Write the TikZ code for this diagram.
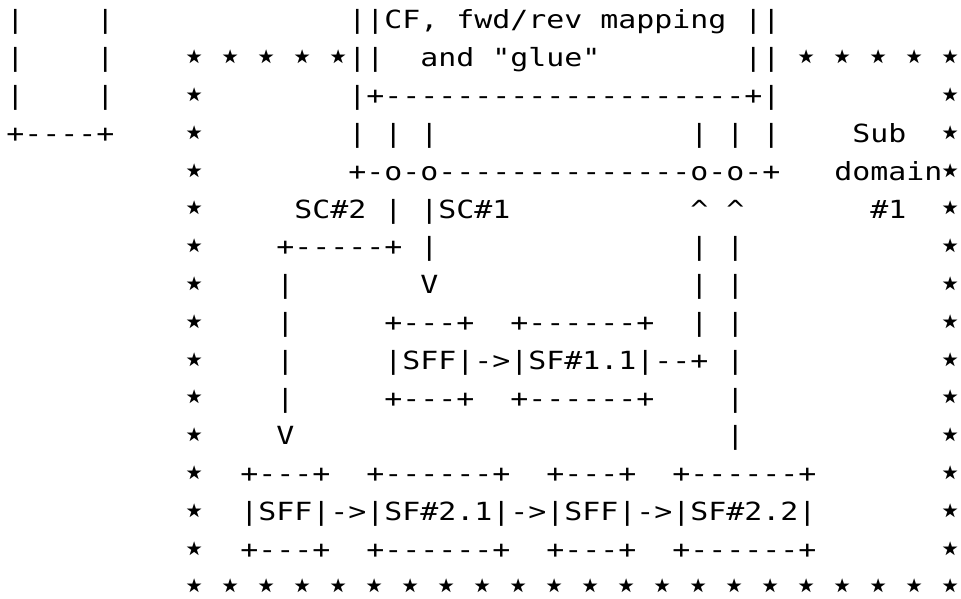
\documentclass[tikz,border=0pt]{standalone}
\usepackage{fontspec}
\setmonofont{DejaVu Sans Mono}[FakeStretch=1.196]
\newfontfamily\starfont{DejaVu Sans}

\begin{document}
\begin{tikzpicture}[x=13.5pt,y=-28.35pt,
    txt/.style={anchor=base west,inner sep=0pt,font=\ttfamily\fontsize{18.75pt}{22pt}\selectfont},
    st/.style={inner sep=0pt,font=\starfont\fontsize{29pt}{30pt}\selectfont}]
        \useasboundingbox (-0.333,0.233) rectangle (53.056,16.079);
        % box at the left edge
        \foreach \r in {1,2,3} {
            \node[txt] (bl\r) at (0,\r) {|};
            \node[txt] (br\r) at (5,\r) {|};
        }
        \node[txt] (bb) at (0,4) {+----+};
        % classifier box
        \node[txt] (cf) at (19,1) {||CF, fwd/rev mapping ||};
        \node[txt] (cfl) at (19,2) {||};
        \node[txt] (glue) at (23,2) {and "glue"};
        \node[txt] (cfr) at (41,2) {||};
        \node[txt] (cfb) at (19,3) {|+--------------------+|};
        \node[txt] (p1) at (19,4) {| | |};
        \node[txt] (p2) at (38,4) {| | |};
        \node[txt] (bus) at (19,5) {+-o-o--------------o-o-+};
        \node[txt] (sc) at (16,6) {SC\#2 | |SC\#1};
        \node[txt] (up) at (38,6) {\textasciicircum{} \textasciicircum};
        % paths down
        \node[txt] (sc2a) at (15,7) {+-----+ |};
        \node[txt] (ret7) at (38,7) {| |};
        \node[txt] (sc2b) at (15,8) {|};
        \node[txt] (sc1v) at (23,8) {V};
        \node[txt] (ret8) at (38,8) {| |};
        \node[txt] (sc2c) at (15,9) {|};
        \node[txt] (sff1t) at (21,9) {+---+};
        \node[txt] (sf11t) at (28,9) {+------+};
        \node[txt] (ret9) at (38,9) {| |};
        \node[txt] (sc2d) at (15,10) {|};
        \node[txt] (ch1) at (21,10) {|SFF|->|SF\#1.1|--+ |};
        \node[txt] (sc2e) at (15,11) {|};
        \node[txt] (sff1b) at (21,11) {+---+};
        \node[txt] (sf11b) at (28,11) {+------+};
        \node[txt] (ret11) at (40,11) {|};
        \node[txt] (sc2v) at (15,12) {V};
        \node[txt] (ret12) at (40,12) {|};
        % second chain
        \foreach \r in {13,15} {
            \node[txt] (sffa\r) at (13,\r) {+---+};
            \node[txt] (sf21\r) at (20,\r) {+------+};
            \node[txt] (sffb\r) at (30,\r) {+---+};
            \node[txt] (sf22\r) at (37,\r) {+------+};
        }
        \node[txt] (ch2) at (13,14) {|SFF|->|SF\#2.1|->|SFF|->|SF\#2.2|};
        % sub domain label
        \node[txt] (sub) at (47,4) {Sub};
        \node[txt] (dom) at (46,5) {domain};
        \node[txt] (num) at (48,6) {\#1};
        % star border
        \foreach \c in {10,12,...,18} \node[st] (stl\c) at (\c+0.5,1.815) {⋆};
        \foreach \c in {44,46,...,52} \node[st] (str\c) at (\c+0.5,1.815) {⋆};
        \foreach \r in {3,...,15} {
            \node[st] (sl\r) at (10.5,\r-0.185) {⋆};
            \node[st] (sr\r) at (52.5,\r-0.185) {⋆};
        }
        \foreach \c in {10,12,...,52} \node[st] (sb\c) at (\c+0.5,15.815) {⋆};
    \end{tikzpicture}
\end{document}
